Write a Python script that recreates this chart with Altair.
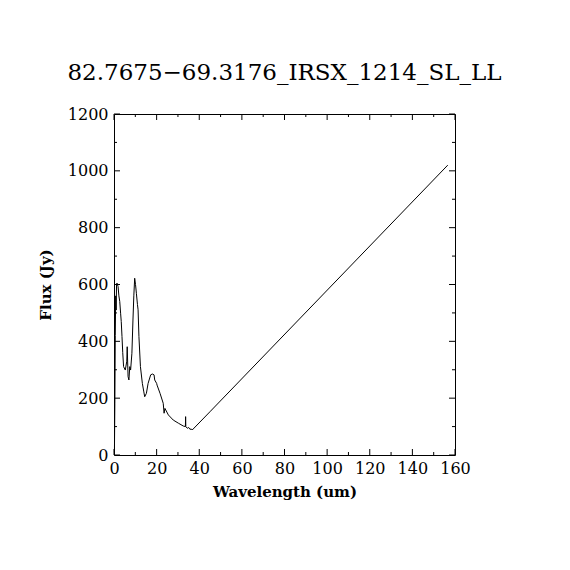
import altair as alt
import pandas as pd

# Spectrum (wavelength in um, flux in Jy)
wavelength = [0.2, 0.4, 0.6, 0.8, 1.0, 1.2, 1.4, 1.9, 2.3, 2.7, 3.1, 3.4, 3.75, 4.1, 4.5, 5.3,
              6.0, 6.2, 6.6, 7.0, 7.4, 7.8, 8.4, 8.9, 9.3, 9.7, 10.1, 10.5, 11.0, 11.3, 11.7,
              12.4, 13.3, 14.0, 14.4, 15.2, 16.0, 17.2, 18.0, 18.8, 19.1, 20.0, 20.2, 21.6,
              23.1, 23.5, 23.9, 25.5, 27.8, 30.2, 32.5, 33.5, 33.6, 33.7, 34.4, 35.0, 35.7,
              36.2, 36.7, 45.0, 156.6]
flux = [10, 180, 420, 560, 510, 600, 605, 593, 560, 540, 499, 470, 417, 360, 311, 299,
        330, 381, 276, 264, 311, 299, 358, 475, 560, 622, 600, 569, 530, 511, 417,
        311, 252, 222, 205, 217, 252, 282, 285, 282, 264, 252, 246, 217,
        182, 147, 164, 141, 123, 112, 102, 100, 135, 100, 94, 97, 90,
        92, 88, 152, 1020]

x_major = [0, 20, 40, 60, 80, 100, 120, 140, 160]
x_minor = [10, 30, 50, 70, 90, 110, 130, 150]
y_major = [0, 200, 400, 600, 800, 1000, 1200]
y_minor = [100, 300, 500, 700, 900, 1100]

W, H = 341, 341
MAJ, MIN = 6, 3
FONT = "DejaVu Serif"

spec = pd.DataFrame({"wl": wavelength, "flux": flux})

xs = alt.Scale(domain=[0, 160], nice=False, zero=False)
ys = alt.Scale(domain=[0, 1200], nice=False, zero=False)
xaxis = alt.Axis(values=x_major, ticks=False, domain=False, grid=False, labelFlush=False,
                 labelOverlap=False, labelPadding=5, titlePadding=8, format="d")
yaxis = alt.Axis(values=y_major, ticks=False, domain=False, grid=False, labelFlush=False,
                 labelOverlap=False, labelPadding=6, titlePadding=14, format="d")
XT = "Wavelength (um)"
YT = "Flux (Jy)"

line = alt.Chart(spec).mark_line(color="black", strokeWidth=1, interpolate="linear").encode(
    x=alt.X("wl:Q", scale=xs, title=XT, axis=xaxis),
    y=alt.Y("flux:Q", scale=ys, title=YT, axis=yaxis),
    order=alt.Order("wl:Q"),
)


def xticks(vals, length):
    d = pd.DataFrame({"v": vals})
    bottom = alt.Chart(d).mark_rule(color="black", strokeWidth=1).encode(
        x=alt.X("v:Q", scale=xs, title=XT, axis=xaxis), y=alt.value(H), y2=alt.value(H - length))
    top = alt.Chart(d).mark_rule(color="black", strokeWidth=1).encode(
        x=alt.X("v:Q", scale=xs, title=XT, axis=xaxis), y=alt.value(0), y2=alt.value(length))
    return [bottom, top]


def yticks(vals, length):
    d = pd.DataFrame({"v": vals})
    left = alt.Chart(d).mark_rule(color="black", strokeWidth=1).encode(
        y=alt.Y("v:Q", scale=ys, title=YT, axis=yaxis), x=alt.value(0), x2=alt.value(length))
    right = alt.Chart(d).mark_rule(color="black", strokeWidth=1).encode(
        y=alt.Y("v:Q", scale=ys, title=YT, axis=yaxis), x=alt.value(W), x2=alt.value(W - length))
    return [left, right]


layers = [line] + xticks(x_major, MAJ) + xticks(x_minor, MIN) + yticks(y_major, MAJ) + yticks(y_minor, MIN)

chart = alt.layer(*layers).properties(
    width=W, height=H,
    title=alt.TitleParams("82.7675\u221269.3176_IRSX_1214_SL_LL", font=FONT, fontSize=23,
                          fontWeight="normal", color="black", anchor="middle", frame="group",
                          offset=21),
    autosize=alt.AutoSizeParams(type="none"),
    padding={"left": 106, "top": 106, "right": 107, "bottom": 107},
).configure(
    background="white"
).configure_view(
    stroke="black", strokeWidth=1, fill="white"
).configure_axis(
    labelFont=FONT, labelFontSize=16, labelColor="black",
    titleFont=FONT, titleFontSize=15, titleFontWeight="bold", titleColor="black",
)

chart.save("out.html", embed_options={"renderer": "svg", "actions": False})
